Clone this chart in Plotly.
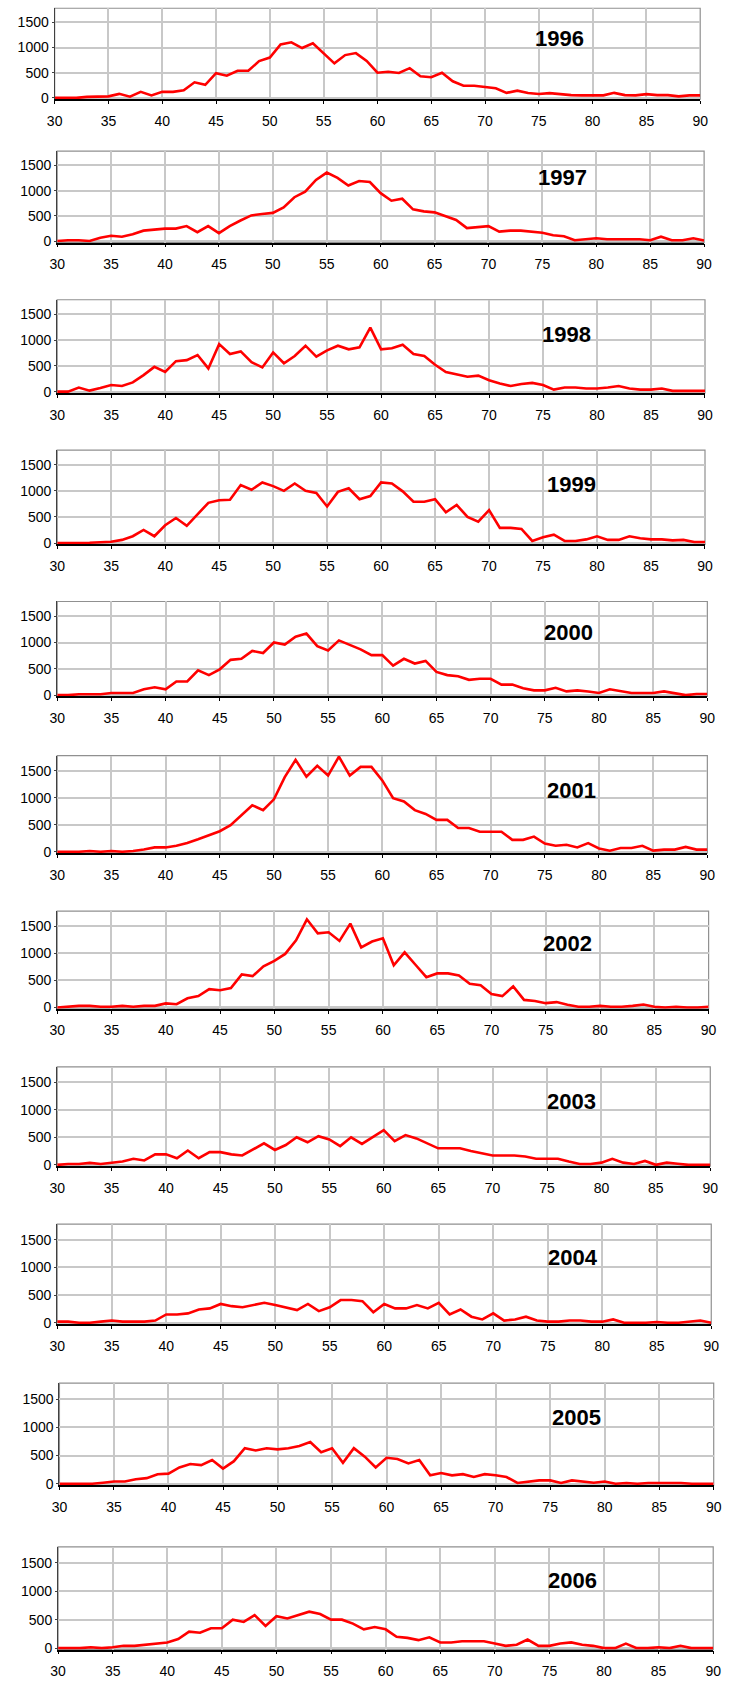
import plotly.graph_objects as go

ages = list(range(30, 91))
years = ["1996", "1997", "1998", "1999", "2000", "2001", "2002", "2003", "2004", "2005", "2006"]

v1996 = [0, 0, 0, 20, 25, 30, 80, 25, 120, 50,
         120, 120, 150, 310, 260, 490, 440, 540, 540, 730,
         800, 1060, 1105, 990, 1085, 880, 685, 850, 890, 735,
         500, 520, 495, 590, 430, 410, 500, 330, 242, 242,
         216, 190, 100, 144, 98, 78, 95, 75, 55, 50,
         50, 50, 100, 55, 50, 75, 55, 55, 30, 50, 50]
v1997 = [5, 20, 20, 5, 70, 110, 90, 140, 210, 230,
         250, 250, 300, 180, 300, 160, 300, 410, 510, 540,
         560, 670, 870, 980, 1210, 1355, 1250, 1100, 1190, 1170,
         950, 800, 840, 630, 590, 570, 500, 420, 260, 280,
         300, 190, 210, 210, 190, 170, 120, 100, 20, 40,
         60, 40, 40, 40, 40, 20, 90, 20, 20, 60, 15]
v1998 = [0, 0, 80, 20, 70, 130, 110, 180, 320, 480,
         380, 590, 610, 710, 450, 920, 730, 780, 570, 470,
         760, 550, 690, 890, 680, 800, 890, 820, 860, 1240,
         820, 840, 910, 730, 690, 520, 380, 340, 290, 310,
         220, 160, 110, 150, 170, 130, 40, 80, 80, 60,
         60, 80, 110, 60, 40, 40, 60, 15, 15, 15, 15]
v1999 = [0, 0, 0, 5, 15, 25, 60, 130, 250, 130,
         340, 480, 330, 550, 770, 820, 830, 1110, 1020, 1160,
         1090, 1000, 1140, 1000, 960, 700, 980, 1050, 840, 900,
         1160, 1140, 990, 790, 790, 840, 590, 730, 500, 410,
         630, 290, 290, 270, 40, 110, 160, 40, 40, 70,
         130, 60, 60, 130, 90, 70, 70, 50, 60, 20, 20]
v2000 = [0, 0, 15, 15, 15, 40, 40, 40, 110, 150,
         110, 260, 260, 470, 380, 490, 670, 690, 840, 800,
         1000, 960, 1110, 1170, 930, 850, 1040, 960, 870, 760,
         760, 560, 690, 600, 650, 440, 380, 360, 290, 310,
         310, 200, 200, 130, 90, 90, 140, 70, 90, 70,
         40, 110, 70, 40, 40, 40, 70, 40, 0, 20, 20]
v2001 = [0, 0, 0, 15, 0, 15, 0, 15, 40, 80,
         80, 110, 160, 230, 310, 380, 490, 670, 860, 770,
         970, 1380, 1700, 1390, 1590, 1410, 1760, 1410, 1570, 1570,
         1320, 990, 930, 770, 700, 590, 590, 440, 440, 370,
         370, 370, 220, 220, 280, 150, 110, 130, 80, 160,
         60, 20, 70, 70, 110, 20, 40, 40, 90, 40, 40]
v2002 = [0, 15, 30, 30, 15, 15, 30, 15, 30, 30,
         75, 60, 170, 210, 340, 320, 360, 610, 580, 760,
         860, 990, 1240, 1630, 1370, 1390, 1230, 1550, 1110, 1220,
         1280, 780, 1020, 790, 560, 630, 630, 590, 440, 410,
         250, 210, 390, 140, 120, 80, 100, 50, 15, 15,
         30, 15, 15, 30, 55, 15, 0, 15, 0, 0, 15]
v2003 = [0, 15, 15, 35, 15, 35, 60, 110, 80, 190,
         190, 120, 260, 120, 230, 230, 190, 170, 280, 390,
         270, 360, 500, 410, 520, 460, 340, 500, 380, 500,
         630, 430, 540, 480, 390, 300, 300, 300, 250, 210,
         170, 170, 170, 150, 110, 110, 110, 60, 15, 15,
         40, 110, 40, 15, 70, 0, 40, 20, 0, 0, 0]
v2004 = [20, 20, 0, 0, 20, 40, 20, 20, 20, 40,
         150, 150, 170, 240, 260, 340, 300, 280, 320, 360,
         320, 280, 230, 340, 210, 280, 410, 410, 390, 190,
         340, 260, 260, 320, 260, 360, 150, 240, 110, 60,
         170, 40, 60, 110, 40, 20, 20, 40, 40, 20,
         20, 60, 0, 0, 0, 15, 0, 0, 20, 40, 0]
v2005 = [0, 0, 0, 0, 20, 40, 40, 80, 100, 170,
         180, 290, 350, 330, 420, 270, 400, 630, 590, 630,
         610, 630, 670, 740, 560, 630, 370, 630, 480, 290,
         460, 440, 360, 420, 150, 190, 150, 170, 120, 170,
         150, 120, 15, 40, 60, 60, 15, 60, 40, 20,
         40, 0, 15, 0, 15, 15, 15, 15, 0, 0, 0]
v2006 = [0, 0, 0, 15, 0, 15, 40, 40, 60, 80,
         100, 160, 290, 270, 350, 350, 500, 460, 580, 390,
         560, 520, 580, 640, 600, 500, 500, 430, 330, 370,
         330, 200, 180, 140, 190, 100, 100, 120, 120, 120,
         80, 40, 60, 150, 40, 40, 80, 100, 60, 40,
         0, 0, 80, 0, 0, 15, 0, 40, 0, 0, 0]

series = [v1996, v1997, v1998, v1999, v2000, v2001, v2002, v2003, v2004, v2005, v2006]
x_ticks = list(range(30, 91, 5))
y_ticks = [0, 500, 1000, 1500]

W, H = 731, 1682
# panel geometry in page pixels: left, right, top, zero-line
p_left = [47.7, 50.3, 50.3, 50.3, 50.3, 50.3, 50.3, 50.3, 50.3, 52.6, 51.2]
p_right = [707.7, 711.7, 712.6, 712.6, 715, 715, 716.3, 718, 719, 721.5, 721]
p_top = [8.3, 151.7, 301, 452, 604, 758.7, 915, 1071.3, 1229.3, 1389, 1553.3]
p_bot = [98.3, 242.3, 393.3, 545.3, 698, 855.3, 1011.7, 1169.7, 1328.3, 1490, 1655]
t_x = [563.6, 567.3, 570.6, 576.1, 572.9, 576.1, 572, 576.1, 577.5, 580.8, 577.5]
t_y = [39, 178.5, 335.5, 486.3, 635.3, 793.5, 947.5, 1106, 1262.7, 1423, 1587.5]

YMIN, YMAX = -25, 1780
fig = go.Figure()
layout = dict(width=W, height=H, margin=dict(l=0, r=0, t=0, b=0, pad=0),
              paper_bgcolor="white", plot_bgcolor="white", showlegend=False)
shapes = []
annotations = []
tickfont = dict(family="Liberation Sans, Arial", size=14, color="black")

for i, (yr, vals) in enumerate(zip(years, series)):
    n = "" if i == 0 else str(i + 1)
    fig.add_trace(go.Scatter(x=ages, y=vals, mode="lines",
                             line=dict(color="#ff0000", width=2.6),
                             xaxis="x" + n, yaxis="y" + n, hoverinfo="skip"))
    h = p_bot[i] - p_top[i]
    pxu = h / YMAX
    bottom_px = p_bot[i] + (-YMIN) * pxu
    layout["xaxis" + n] = dict(domain=[p_left[i] / W, p_right[i] / W],
                               range=[30, 90], anchor="y" + n, tickvals=x_ticks,
                               showgrid=True, gridcolor="#c8c8c8", gridwidth=1.5,
                               showline=True, linecolor="black", linewidth=1.5,
                               ticks="outside", ticklen=3, tickcolor="black",
                               ticklabelstandoff=5,
                               tickfont=tickfont, zeroline=False, fixedrange=True)
    layout["yaxis" + n] = dict(domain=[1 - bottom_px / H, 1 - p_top[i] / H],
                               range=[YMIN, YMAX], anchor="x" + n, tickvals=y_ticks,
                               showgrid=True, gridcolor="#c8c8c8", gridwidth=1.5,
                               showline=True, linecolor="#404040", linewidth=1.2,
                               ticks="outside", ticklen=2, tickcolor="#404040",
                               tickfont=tickfont, zeroline=False, fixedrange=True)
    shapes.append(dict(type="rect", xref="x" + n + " domain", yref="y" + n + " domain",
                       x0=0, x1=1, y0=0, y1=1, line=dict(color="#909090", width=1.2),
                       layer="below"))
    annotations.append(dict(text=yr, x=t_x[i] / W, y=1 - t_y[i] / H,
                            xref="paper", yref="paper", showarrow=False,
                            xanchor="center", yanchor="middle",
                            font=dict(family="Liberation Sans, Arial", size=22,
                                      color="black", weight="bold")))

layout["shapes"] = shapes
layout["annotations"] = annotations
fig.update_layout(**layout)
# remove the default 8px page margin so the figure fills the window exactly
fig.write_html("out.html",
               config={"displayModeBar": False},
               post_script="document.documentElement.style.margin='0';"
                           "document.body.style.margin='0';"
                           "document.body.style.overflow='hidden';")
